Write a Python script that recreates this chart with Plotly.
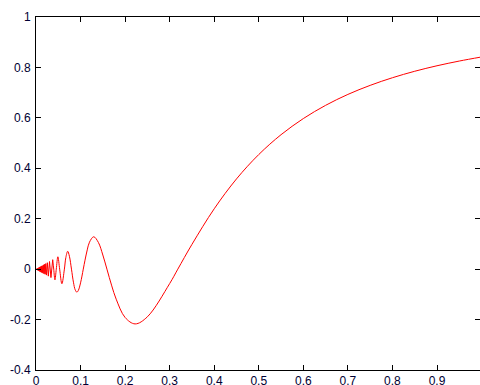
import plotly.graph_objects as go

# smooth part of the curve
x_main = [0.0375, 0.0398, 0.0425, 0.0455, 0.0491, 0.0531, 0.0581, 0.0637, 0.067, 0.0711,
          0.075, 0.0796, 0.084, 0.088, 0.0917, 0.095, 0.1, 0.1061, 0.11, 0.115, 0.12,
          0.1295, 0.14, 0.15, 0.1592, 0.17, 0.18, 0.2, 0.2225, 0.25, 0.3, 0.3183, 0.35,
          0.4, 0.45, 0.5, 0.55, 0.6, 0.65, 0.7, 0.75, 0.8, 0.85, 0.9, 0.95, 1.0]
y_main = [0.0375, 0.0, -0.0425, 0.0, 0.049, 0.0, -0.058, 0.0, 0.0461, 0.0709,
          0.051, 0.0, -0.0517, -0.0822, -0.0913, -0.0844, -0.0544, 0.0, 0.0355, 0.0763, 0.1069,
          0.1284, 0.106, 0.0561, 0.0, -0.0664, -0.1192, -0.1918, -0.2172, -0.189, -0.0572, 0.0, 0.0982,
          0.2394, 0.3579, 0.4546, 0.5333, 0.5972, 0.6497, 0.693, 0.7289, 0.7592, 0.7848, 0.8066, 0.8253, 0.8415]

# dense oscillation near zero: peaks
x_dense = [0.0375, 0.03355, 0.03034, 0.0277, 0.02548, 0.02359, 0.02196, 0.02055, 0.0193, 0.0182,
           0.01721, 0.01633, 0.01553, 0.01481, 0.01415, 0.01355, 0.0130, 0.01249, 0.01202, 0.01158,
           0.01117, 0.01079, 0.01044, 0.01011, 0.0098, 0.0095, 0.0092, 0.0089, 0.0086, 0.0083,
           0.008, 0.0077, 0.0074, 0.0071, 0.0068, 0.0065, 0.0062, 0.0059, 0.0056, 0.0053,
           0.005, 0.0047, 0.0044, 0.0041, 0.0038, 0.0035, 0.0032, 0.0029, 0.0026, 0.0023,
           0.002, 0.0017, 0.0014, 0.0011, 0.0008, 0.0005, 0.0002, 0.0]
y_dense = [0.0375, -0.0335, 0.0303, -0.0277, 0.0255, -0.0236, 0.022, -0.0205, 0.0193, -0.0182,
           0.0172, -0.0163, 0.0155, -0.0148, 0.0141, -0.0135, 0.013, -0.0125, 0.012, -0.0116,
           0.0112, -0.0108, 0.0104, -0.0101, 0.0098, -0.0095, 0.0092, -0.0089, 0.0086, -0.0083,
           0.008, -0.0077, 0.0074, -0.0071, 0.0068, -0.0065, 0.0062, -0.0059, 0.0056, -0.0053,
           0.005, -0.0047, 0.0044, -0.0041, 0.0038, -0.0035, 0.0032, -0.0029, 0.0026, -0.0023,
           0.002, -0.0017, 0.0014, -0.0011, 0.0008, -0.0005, 0.0002, 0.0]

x_ticks = [0, 0.1, 0.2, 0.3, 0.4, 0.5, 0.6, 0.7, 0.8, 0.9]
x_labels = ["0", "0.1", "0.2", "0.3", "0.4", "0.5", "0.6", "0.7", "0.8", "0.9"]
y_ticks = [-0.4, -0.2, 0, 0.2, 0.4, 0.6, 0.8, 1]
y_labels = ["-0.4", "-0.2", "0", "0.2", "0.4", "0.6", "0.8", "1"]

fig = go.Figure()
fig.add_trace(go.Scatter(x=x_dense, y=y_dense, mode="lines",
                         line=dict(color="#ff0000", width=1), hoverinfo="skip"))
fig.add_trace(go.Scatter(x=x_main, y=y_main, mode="lines",
                         line=dict(color="#ff0000", width=1, shape="spline", smoothing=1.0)))
# invisible trace for right-side ticks
fig.add_trace(go.Scatter(x=[0], y=[0], yaxis="y2", mode="markers",
                         marker=dict(opacity=0), hoverinfo="skip"))

fig.update_layout(
    width=480, height=385,
    margin=dict(l=36, r=0, t=17, b=15, autoexpand=False),
    paper_bgcolor="white", plot_bgcolor="white",
    showlegend=False,
    font=dict(family="Liberation Sans, Arial, sans-serif", size=12, color="#000033"),
    xaxis=dict(range=[0, 0.9965], tickvals=x_ticks, ticktext=x_labels,
               ticks="inside", ticklen=5, tickcolor="#000", showline=True,
               linecolor="#000", linewidth=1, mirror="ticks", showgrid=False,
               zeroline=False, ticklabelstandoff=0, automargin=False),
    yaxis=dict(range=[-0.4, 1], tickvals=y_ticks, ticktext=y_labels,
               ticks="inside", ticklen=5, tickcolor="#000", showline=True,
               linecolor="#000", linewidth=1, mirror=False, showgrid=False,
               zeroline=False, ticklabelstandoff=2, automargin=False),
    yaxis2=dict(range=[-0.4, 1], tickvals=y_ticks, overlaying="y", side="right",
                ticks="inside", ticklen=5, tickcolor="#000", showline=False,
                showticklabels=False, showgrid=False, zeroline=False, automargin=False),
)

fig.write_html(
    "out.html",
    config={"displayModeBar": False},
    post_script="document.body.style.margin='0';document.body.style.overflow='hidden';",
)
